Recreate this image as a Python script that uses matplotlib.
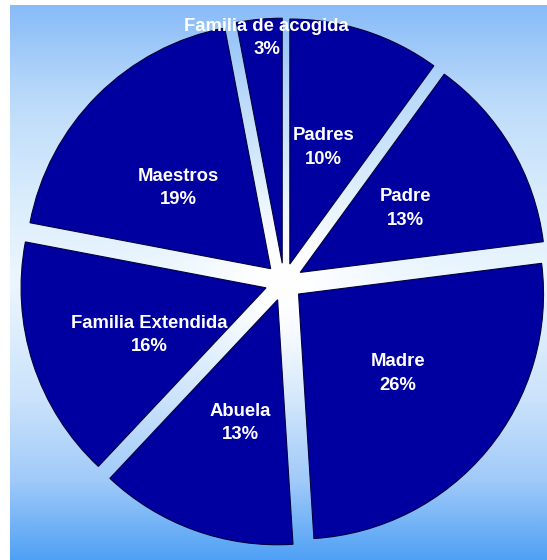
import numpy as np
import matplotlib.pyplot as plt

# share of each group, clockwise from 12 o'clock
labels = ['Padres', 'Padre', 'Madre', 'Abuela', 'Familia Extendida',
          'Maestros', 'Familia de acogida']
values = [10, 13, 26, 13, 16, 19, 3]

W, H = 547, 560
cx, cy, R = 284, 282, 245   # pie centre / radius in pixels

fig = plt.figure(figsize=(W / 100, H / 100), dpi=100)
fig.patch.set_facecolor('white')
ax = fig.add_axes([0, 0, 1, 1])
x0, x1 = -cx / R, (W - cx) / R
y0, y1 = -(H - cy) / R, cy / R

# background: vertical blue-white-blue gradient, whiter towards the middle
py = np.arange(H)[:, None] + np.zeros((1, W))
px = np.zeros((H, 1)) + np.arange(W)[None, :]
stops_y = [5, 100, 200, 280, 400, 480, 560]
stops_c = [(136, 187, 248), (188, 219, 250), (218, 237, 252), (236, 246, 254),
           (202, 226, 251), (160, 202, 249), (78, 160, 245)]
bg = np.zeros((H, W, 3))
for k in range(3):
    bg[:, :, k] = np.interp(py, stops_y, [c[k] for c in stops_c])
d = np.hypot(px - cx, py - cy)
w = np.exp(-(d / 90.0) ** 2)[:, :, None]
bg = bg * (1 - w) + 255 * w
bg = bg / 255.0
# white margin on the left and top
bg[:, :10] = 1.0
bg[:5, :] = 1.0
ax.imshow(bg, extent=[x0, x1, y0, y1], origin='upper', aspect='auto', zorder=0)

off = 0.077
wedges, _ = ax.pie(values, explode=[off] * len(values), startangle=90,
                   counterclock=False, colors=['#0000a0'] * len(values),
                   radius=1, wedgeprops=dict(edgecolor='#000040', linewidth=0.8))
for wd in wedges:
    wd.set_zorder(2)

total = sum(values)
for wd, lab, v in zip(wedges, labels, values):
    if v < 5:
        # thin slice: label sits on the rim
        ang = np.deg2rad((wd.theta1 + wd.theta2) / 2 - 1.4)
        dist = 1.015
    else:
        ang = np.deg2rad((wd.theta1 + wd.theta2) / 2 + 2.0)
        dist = 0.587
    tx = dist * np.cos(ang)
    ty = dist * np.sin(ang) - 0.016
    ax.text(tx, ty, '%s\n%d%%' % (lab, round(100 * v / total)), ha='center',
            va='center', color='white', fontsize=13.3, fontweight='bold',
            family='Liberation Sans', linespacing=1.5, zorder=3)

ax.set_aspect('auto')
ax.set_xlim(x0, x1)
ax.set_ylim(y0, y1)
ax.axis('off')

fig.savefig('out.png', dpi=100, facecolor=fig.get_facecolor())
